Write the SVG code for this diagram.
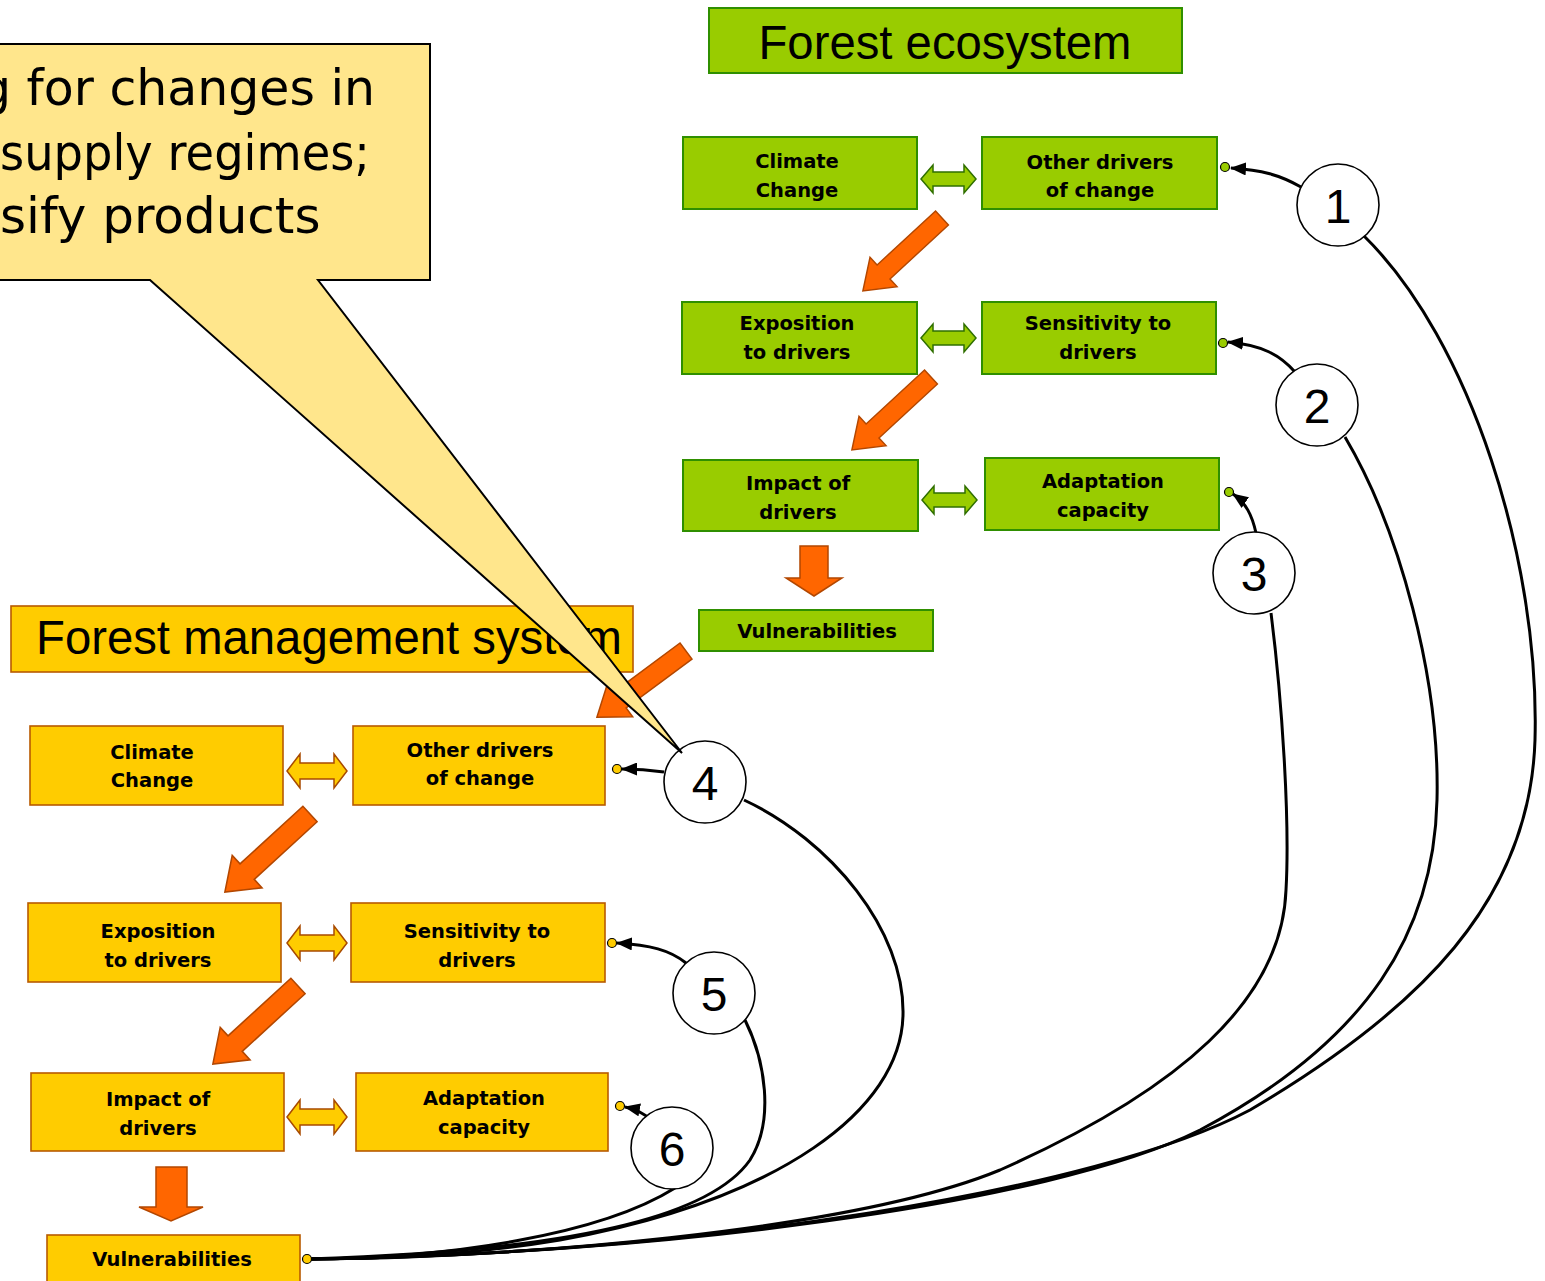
<svg xmlns="http://www.w3.org/2000/svg" width="1545" height="1281" viewBox="0 0 1545 1281">
<defs>
<style>
.gn{fill:#99CC00;stroke:#2F8F00;stroke-width:2}
.on{fill:#FFCC00;stroke:#B85A00;stroke-width:1.6}
.lbl{font-family:"DejaVu Sans",Verdana,sans-serif;font-weight:bold;font-size:19.5px;fill:#000;text-anchor:middle}
.ttl{font-family:"Liberation Sans",Arial,sans-serif;font-size:48px;fill:#000}
.num{font-family:"Liberation Sans",Arial,sans-serif;font-size:48px;fill:#000;text-anchor:middle}
.cir{fill:#fff;stroke:#000;stroke-width:1.6}
.big{fill:#FF6600;stroke:#B34700;stroke-width:1.5}
.gdbl{fill:#99CC00;stroke:#2F6F00;stroke-width:1.5}
.odbl{fill:#FFCC00;stroke:#A84A00;stroke-width:1.5}
.con{fill:none;stroke:#000;stroke-width:3}
.dg{fill:#99CC00;stroke:#000;stroke-width:1.2}
.dy{fill:#FFCC00;stroke:#000;stroke-width:1.2}
.call{font-family:"DejaVu Sans",Tahoma,sans-serif;font-size:50px;fill:#000}
</style>
<marker id="ah" markerUnits="userSpaceOnUse" markerWidth="16" markerHeight="13" viewBox="0 0 16 13" refX="15" refY="6.5" orient="auto">
<path d="M0,0 L16,6.5 L0,13 Z" fill="#000"/>
</marker>
<path id="diag" d="M0,-10 L82,-10 L82,-21 L111,0 L82,21 L82,10 L0,10 Z"/>
<path id="gdb" d="M0,0 L12,-14 L12,-7 L43,-7 L43,-14 L55,0 L43,14 L43,7 L12,7 L12,14 Z"/>
<path id="odb" d="M0,0 L13,-17 L13,-8 L47,-8 L47,-17 L60,0 L47,17 L47,8 L13,8 L13,17 Z"/>
</defs>

<!-- Forest ecosystem title -->
<g id="title-ecosystem">
<rect x="709" y="8" width="473" height="65" class="gn"/>
<text x="945" y="59" class="ttl" text-anchor="middle" textLength="373" lengthAdjust="spacingAndGlyphs">Forest ecosystem</text>
</g>

<!-- green nodes -->
<g id="g-climate"><rect x="683" y="137" width="234" height="72" class="gn"/><text x="797" y="168" class="lbl">Climate</text><text x="797" y="197" class="lbl">Change</text></g>
<g id="g-other"><rect x="982" y="137" width="235" height="72" class="gn"/><text x="1100" y="169" class="lbl">Other drivers</text><text x="1100" y="197" class="lbl">of change</text></g>
<g id="g-exposition"><rect x="682" y="302" width="235" height="72" class="gn"/><text x="797" y="330" class="lbl">Exposition</text><text x="797" y="359" class="lbl">to drivers</text></g>
<g id="g-sensitivity"><rect x="982" y="302" width="234" height="72" class="gn"/><text x="1098" y="330" class="lbl">Sensitivity to</text><text x="1098" y="359" class="lbl">drivers</text></g>
<g id="g-impact"><rect x="683" y="460" width="235" height="71" class="gn"/><text x="798" y="490" class="lbl">Impact of</text><text x="798" y="519" class="lbl">drivers</text></g>
<g id="g-adaptation"><rect x="985" y="458" width="234" height="72" class="gn"/><text x="1103" y="488" class="lbl">Adaptation</text><text x="1103" y="517" class="lbl">capacity</text></g>
<g id="g-vulnerabilities"><rect x="699" y="610" width="234" height="41" class="gn"/><text x="817" y="638" class="lbl">Vulnerabilities</text></g>

<!-- green double arrows and orange flow arrows (ecosystem) -->
<g id="g-arrows">
<use href="#gdb" class="gdbl" transform="translate(921,179)"/>
<use href="#gdb" class="gdbl" transform="translate(921,338)"/>
<use href="#gdb" class="gdbl" transform="translate(922,500)"/>
<use href="#diag" class="big" transform="translate(942,218) rotate(137.3) scale(0.97,0.95)"/>
<use href="#diag" class="big" transform="translate(931,377) rotate(137.3) scale(0.97,0.95)"/>
<path class="big" d="M800,546 H828 V578 H842 L814,596 L786,578 H800 Z"/>
</g>

<!-- Forest management system title -->
<g id="title-management">
<rect x="11" y="606" width="622" height="66" class="on"/>
<text x="36" y="654" class="ttl" textLength="586" lengthAdjust="spacingAndGlyphs">Forest management system</text>
</g>

<!-- arrow from ecosystem vulnerabilities to management system -->
<use href="#diag" class="big" transform="translate(686,651) rotate(143.4)"/>

<!-- orange nodes -->
<g id="o-climate"><rect x="30" y="726" width="253" height="79" class="on"/><text x="152" y="759" class="lbl">Climate</text><text x="152" y="787" class="lbl">Change</text></g>
<g id="o-other"><rect x="353" y="726" width="252" height="79" class="on"/><text x="480" y="757" class="lbl">Other drivers</text><text x="480" y="785" class="lbl">of change</text></g>
<g id="o-exposition"><rect x="28" y="903" width="253" height="79" class="on"/><text x="158" y="938" class="lbl">Exposition</text><text x="158" y="967" class="lbl">to drivers</text></g>
<g id="o-sensitivity"><rect x="351" y="903" width="254" height="79" class="on"/><text x="477" y="938" class="lbl">Sensitivity to</text><text x="477" y="967" class="lbl">drivers</text></g>
<g id="o-impact"><rect x="31" y="1073" width="253" height="78" class="on"/><text x="158" y="1106" class="lbl">Impact of</text><text x="158" y="1135" class="lbl">drivers</text></g>
<g id="o-adaptation"><rect x="356" y="1073" width="252" height="78" class="on"/><text x="484" y="1105" class="lbl">Adaptation</text><text x="484" y="1134" class="lbl">capacity</text></g>
<g id="o-vulnerabilities"><rect x="47" y="1235" width="253" height="50" class="on"/><text x="172" y="1266" class="lbl">Vulnerabilities</text></g>

<g id="o-arrows">
<use href="#odb" class="odbl" transform="translate(287,771)"/>
<use href="#odb" class="odbl" transform="translate(287,943)"/>
<use href="#odb" class="odbl" transform="translate(287,1117)"/>
<use href="#diag" class="big" transform="translate(310,814) rotate(137.5) scale(1.04,1.05)"/>
<use href="#diag" class="big" transform="translate(298,986) rotate(137.5) scale(1.04,1.05)"/>
<path class="big" d="M156,1167 H187 V1207 H203 L171,1221 L139,1207 H156 Z"/>
</g>

<!-- connectors -->
<g id="connectors">
<path class="con" d="M1364,236 C1470,340 1540,560 1535,740 C1530,900 1420,1010 1250,1110 C1100,1190 700,1255 307,1259"/>
<path class="con" d="M1345,437 C1400,530 1440,680 1437,800 C1434,930 1370,1040 1200,1130 C1050,1205 650,1255 307,1259"/>
<path class="con" d="M1271,613 C1282,700 1290,820 1286,890 C1282,1000 1180,1090 1000,1170 C850,1232 500,1259 307,1259"/>
<path class="con" d="M744,800 C830,840 905,930 903,1015 C901,1110 780,1200 560,1240 C470,1255 380,1259 307,1259"/>
<path class="con" d="M745,1020 C765,1060 775,1120 750,1160 C715,1210 600,1250 307,1259"/>
<path class="con" d="M675,1188 C600,1235 450,1258 307,1259"/>
<path class="con" d="M1301,187 C1280,175 1262,170 1231,168" marker-end="url(#ah)"/>
<path class="con" d="M1295,372 C1280,355 1262,345 1228,342" marker-end="url(#ah)"/>
<path class="con" d="M1256,533 C1252,515 1246,503 1233,494" marker-end="url(#ah)"/>
<path class="con" d="M664,772 C650,770 640,769 622,769" marker-end="url(#ah)"/>
<path class="con" d="M686,963 C670,950 650,945 617,943" marker-end="url(#ah)"/>
<path class="con" d="M648,1117 C640,1112 635,1109 625,1107" marker-end="url(#ah)"/>
<circle class="dg" cx="1225" cy="167" r="4.5"/>
<circle class="dg" cx="1223" cy="343" r="4.5"/>
<circle class="dg" cx="1229" cy="492" r="4.5"/>
<circle class="dy" cx="617" cy="769" r="4.5"/>
<circle class="dy" cx="612" cy="943" r="4.5"/>
<circle class="dy" cx="620" cy="1106" r="4.5"/>
<circle class="dy" cx="307" cy="1259" r="4.5"/>
</g>

<!-- numbered circles -->
<g id="c1"><circle class="cir" cx="1338" cy="205" r="41"/><text x="1338" y="223" class="num">1</text></g>
<g id="c2"><circle class="cir" cx="1317" cy="405" r="41"/><text x="1317" y="423" class="num">2</text></g>
<g id="c3"><circle class="cir" cx="1254" cy="573" r="41"/><text x="1254" y="591" class="num">3</text></g>
<g id="c4"><circle class="cir" cx="705" cy="782" r="41"/><text x="705" y="800" class="num">4</text></g>
<g id="c5"><circle class="cir" cx="714" cy="993" r="41"/><text x="714" y="1011" class="num">5</text></g>
<g id="c6"><circle class="cir" cx="672" cy="1148" r="41"/><text x="672" y="1166" class="num">6</text></g>

<!-- callout -->
<g id="callout">
<path d="M-10,44 H430 V280 H318 L682,753 L150,280 H-10 Z" fill="#FFE68C" stroke="#000" stroke-width="2"/>
<text x="-20" y="105" class="call" textLength="395" lengthAdjust="spacingAndGlyphs">g for changes in</text>
<text x="0" y="170" class="call" textLength="370" lengthAdjust="spacingAndGlyphs">supply regimes;</text>
<text x="0" y="233" class="call">sify products</text>
</g>
</svg>
